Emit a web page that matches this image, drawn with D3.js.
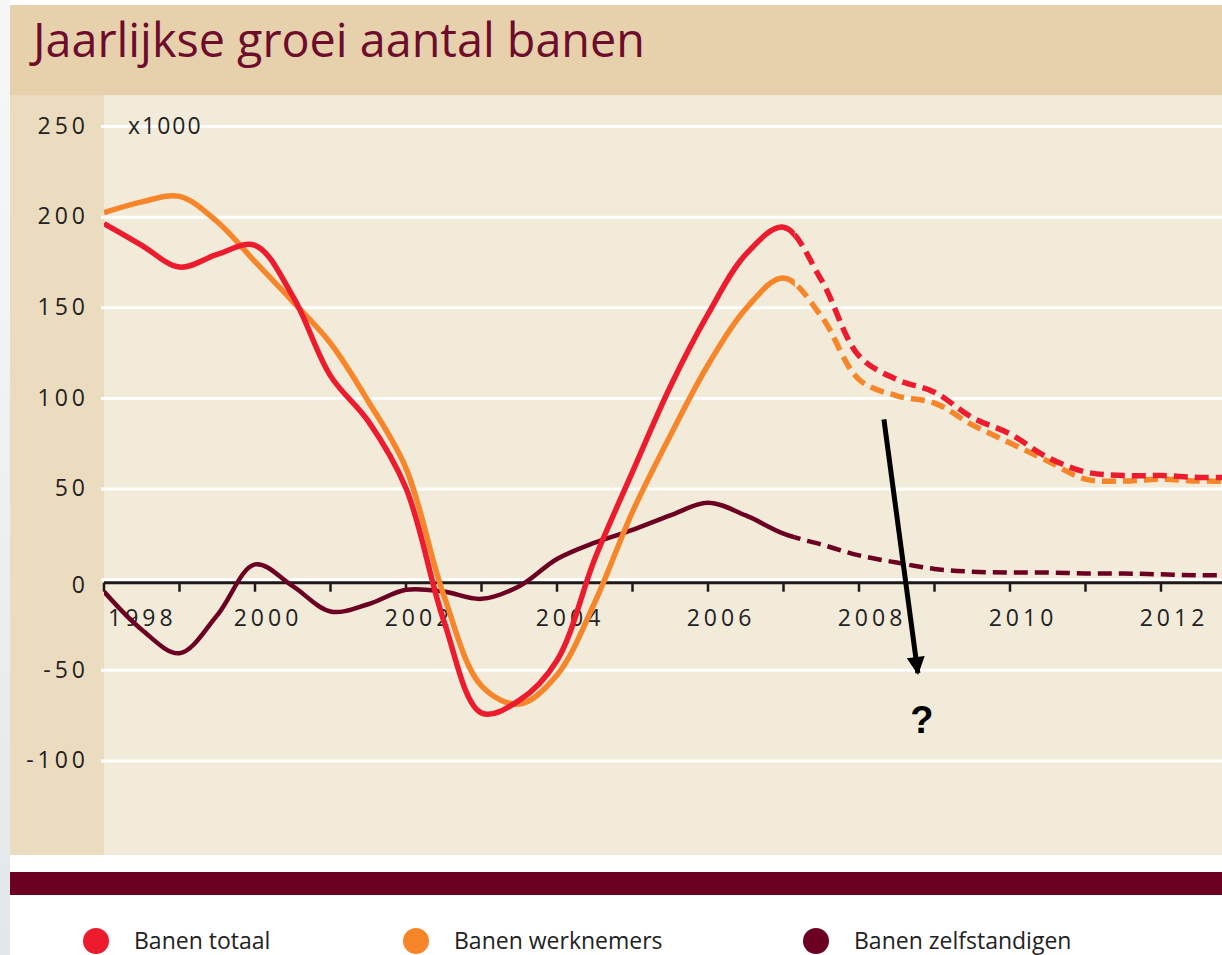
<!DOCTYPE html>
<html>
<head>
<meta charset="utf-8">
<script src="https://cdn.jsdelivr.net/npm/d3@7"></script>
<style>
  html, body { margin: 0; padding: 0; background: #fff; overflow: hidden; }
  svg { display: block; }
</style>
</head>
<body>
<div id="chart"></div>
<script>
// half-yearly readings, x1000 jobs
var years = [1998, 1998.5, 1999, 1999.5, 2000, 2000.5, 2001, 2001.5, 2002, 2002.5,
  2003, 2003.5, 2004, 2004.5, 2005, 2005.5, 2006, 2006.5, 2007, 2007.5,
  2008, 2008.5, 2009, 2009.5, 2010, 2010.5, 2011, 2011.5, 2012, 2012.5, 2013];
var banenTotaal = [197, 185, 173, 180, 185, 157, 113, 88, 51, -22,
  -73, -66, -44, 12, 60, 107, 147, 180, 195, 166,
  124, 111, 104, 90, 81, 68, 60, 58, 58, 57, 57];
var banenWerknemers = [203, 209, 212, 198, 176, 154, 131, 99, 62, -8,
  -58, -68, -52, -12, 38, 80, 119, 150, 167, 146,
  111, 102, 98, 86, 76, 66, 56, 55, 56, 55, 55];
var banenZelfstandigen = [-6, -27, -40, -19, 9, -3, -17, -13, -5, -6,
  -10, -3, 12, 21, 28, 36, 43, 36, 26, 20,
  14, 10, 6.5, 5, 4.5, 4.5, 4, 4, 3.5, 3, 3];
var forecastFrom = 2007.15;

var yTicks = [250, 200, 150, 100, 50, 0, -50, -100];
var xLabels = [1998, 2000, 2002, 2004, 2006, 2008, 2010, 2012];
var xMinor = d3.range(1998, 2013, 1);

var seriesNames = ["Banen totaal", "Banen werknemers", "Banen zelfstandigen"];
var seriesColors = ["#ed1b2e", "#f7862b", "#6b0022"];
var seriesWidths = [5.5, 5.5, 4.5];

var W = 1222, H = 955;
var plotLeft = 104, plotRight = 1222, plotTop = 95, plotBottom = 855;

var svg = d3.select("#chart").append("svg")
  .attr("width", W)
  .attr("height", H);

var defs = svg.append("defs");
var grad = defs.append("linearGradient").attr("id", "edge")
  .attr("x1", 0).attr("y1", 0).attr("x2", 0).attr("y2", 1);
grad.append("stop").attr("offset", "0").attr("stop-color", "#f7f7f7");
grad.append("stop").attr("offset", "0.5").attr("stop-color", "#eef1f3");
grad.append("stop").attr("offset", "1").attr("stop-color", "#e3e7e9");

// page edge + panels
svg.append("rect").attr("x", 0).attr("y", 0).attr("width", 10).attr("height", H).attr("fill", "url(#edge)");
svg.append("rect").attr("x", 10).attr("y", 5).attr("width", W - 10).attr("height", 90).attr("fill", "#e7d1ac");
svg.append("rect").attr("x", 10).attr("y", plotTop).attr("width", plotLeft - 10).attr("height", plotBottom - plotTop).attr("fill", "#ecdcbf");
svg.append("rect").attr("x", plotLeft).attr("y", plotTop).attr("width", plotRight - plotLeft).attr("height", plotBottom - plotTop).attr("fill", "#f3ebda");
svg.append("rect").attr("x", 10).attr("y", 872).attr("width", W - 10).attr("height", 23).attr("fill", "#6b0022");

// title
var title = svg.append("text")
  .attr("x", 33).attr("y", 57)
  .attr("fill", "#6d0c2b")
  .style("font-family", "'Open Sans', sans-serif")
  .style("font-size", "40px")
  .text("Jaarlijkse groei aantal banen");
var tw = title.node().getComputedTextLength();
title.style("font-size", (40 * 612 / tw) + "px");

var x = d3.scaleLinear().domain([1998, 2012]).range([104, 1161]);
var y = d3.scaleLinear().domain([-100, 250]).range([762, 127.5]);

// gridlines
svg.append("g").selectAll("line")
  .data(yTicks)
  .enter()
  .append("line")
    .attr("x1", 101).attr("x2", plotRight)
    .attr("y1", function(d) { return y(d) - 1; })
    .attr("y2", function(d) { return y(d) - 1; })
    .style("stroke", "#fff")
    .style("stroke-width", 3);

var numFont = "'Open Sans', sans-serif";

// y labels
svg.append("g").selectAll("text")
  .data(yTicks)
  .enter()
  .append("text")
    .attr("x", 89)
    .attr("y", function(d) { return d == 0 ? y(d) + 6 : y(d); })
    .attr("text-anchor", "end")
    .attr("dominant-baseline", "middle")
    .style("font-family", numFont)
    .style("font-size", "23px")
    .style("letter-spacing", "4px")
    .style("fill", "#222")
    .text(function(d) { return d; });

svg.append("text")
  .attr("x", 128).attr("y", y(250))
  .attr("dominant-baseline", "middle")
  .style("font-family", numFont)
  .style("font-size", "23px")
  .style("letter-spacing", "2px")
  .style("fill", "#222")
  .text("x1000");

// x axis
var axisY = y(0) + 2;
svg.append("line")
  .attr("x1", plotLeft).attr("x2", plotRight)
  .attr("y1", axisY).attr("y2", axisY)
  .style("stroke", "#1e1a1a").style("stroke-width", 3);
svg.append("g").selectAll("line")
  .data(xMinor)
  .enter()
  .append("line")
    .attr("x1", function(d) { return x(d); })
    .attr("x2", function(d) { return x(d); })
    .attr("y1", axisY).attr("y2", axisY + 9)
    .style("stroke", "#1e1a1a").style("stroke-width", 2.5);
svg.append("g").selectAll("text")
  .data(xLabels)
  .enter()
  .append("text")
    .attr("x", function(d, i) { return i == 0 ? x(d) + 4 : x(d) + 13; })
    .attr("y", axisY + 43)
    .attr("text-anchor", function(d, i) { return i == 0 ? "start" : "middle"; })
    .style("font-family", numFont)
    .style("font-size", "23px")
    .style("letter-spacing", "4px")
    .style("fill", "#222")
    .text(function(d) { return d; });

// lines, solid up to forecastFrom, dashed after
var splitX = x(forecastFrom);
defs.append("clipPath").attr("id", "solidClip")
  .append("rect").attr("x", plotLeft).attr("y", plotTop)
  .attr("width", splitX - plotLeft).attr("height", plotBottom - plotTop);
defs.append("clipPath").attr("id", "dashClip")
  .append("rect").attr("x", splitX).attr("y", plotTop)
  .attr("width", plotRight - splitX).attr("height", plotBottom - plotTop);

var line = d3.line()
  .x(function(d) { return x(d[0]); })
  .y(function(d) { return y(d[1]); })
  .curve(d3.curveCatmullRom.alpha(0.5));

var allSeries = [banenTotaal, banenWerknemers, banenZelfstandigen];
var lines = svg.append("g");
// zelfstandigen first, then werknemers, totaal on top
[2, 1, 0].forEach(function(i) {
  var pts = years.map(function(yr, j) { return [yr, allSeries[i][j]]; });
  lines.append("path")
    .attr("d", line(pts))
    .attr("clip-path", "url(#solidClip)")
    .style("fill", "none")
    .style("stroke", seriesColors[i])
    .style("stroke-width", seriesWidths[i]);
  lines.append("path")
    .attr("d", line(pts))
    .attr("clip-path", "url(#dashClip)")
    .style("fill", "none")
    .style("stroke", seriesColors[i])
    .style("stroke-width", seriesWidths[i])
    .style("stroke-dasharray", "14,7");
});

// annotation arrow
var arrowFrom = [2008.33, 89], arrowTo = [2008.78, -51];
defs.append("marker").attr("id", "head")
  .attr("viewBox", "0 0 10 10").attr("refX", 9).attr("refY", 5)
  .attr("markerUnits", "userSpaceOnUse")
  .attr("markerWidth", 20).attr("markerHeight", 18)
  .attr("orient", "auto")
  .append("path").attr("d", "M0,0 L10,5 L0,10 Z").attr("fill", "#000");
svg.append("line")
  .attr("x1", x(arrowFrom[0])).attr("y1", y(arrowFrom[1]))
  .attr("x2", x(arrowTo[0])).attr("y2", y(arrowTo[1]))
  .style("stroke", "#000").style("stroke-width", 5)
  .attr("marker-end", "url(#head)");
svg.append("text")
  .attr("x", x(arrowTo[0]) + 4).attr("y", y(arrowTo[1]) + 60)
  .attr("text-anchor", "middle")
  .style("font-family", "'Liberation Sans', Arial, sans-serif")
  .style("font-weight", "bold")
  .style("font-size", "38px")
  .style("fill", "#000")
  .text("?");

// legend
var legendX = [96, 416, 816];
var legend = svg.append("g").selectAll("g")
  .data(seriesNames)
  .enter()
  .append("g")
    .attr("transform", function(d, i) { return "translate(" + legendX[i] + ",941)"; });
legend.append("circle")
  .attr("r", 13)
  .style("fill", function(d, i) { return seriesColors[i]; });
legend.append("text")
  .attr("x", 38).attr("y", 8)
  .style("font-family", "'Open Sans', sans-serif")
  .style("font-size", "23px")
  .style("fill", "#222")
  .text(function(d) { return d; });
</script>
</body>
</html>
